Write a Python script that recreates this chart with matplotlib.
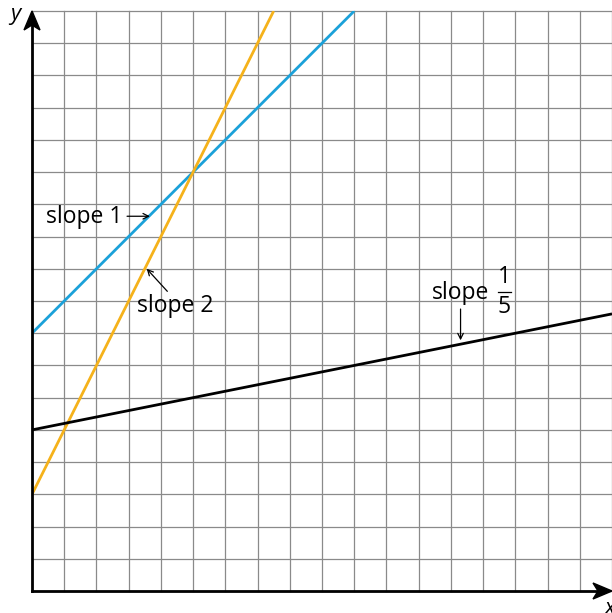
import numpy as np
import matplotlib
matplotlib.use('Agg')
import matplotlib.pyplot as plt
from matplotlib.patches import Polygon

plt.rcParams['font.family'] = ['Open Sans', 'DejaVu Sans']

# line end points
blue_x = [0, 10]
blue_y = [8, 18]
orange_x = [0, 7.5]
orange_y = [3, 18]
black_x = [0, 18]
black_y = [5, 8.6]

grid_max = 18
blue = '#1ba1d9'
orange = '#f5b21b'

fig = plt.figure(figsize=(6.12, 6.13), dpi=100)
W, H = 612, 613
ax = fig.add_axes([32 / W, 22 / H, 580 / W, 580 / H])
ax.set_xlim(0, grid_max)
ax.set_ylim(0, grid_max)
ax.axis('off')

# grid
for k in range(grid_max + 1):
    ax.plot([k, k], [0, grid_max], color='#8a8a8a', lw=0.9, zorder=1, clip_on=False)
    ax.plot([0, grid_max], [k, k], color='#8a8a8a', lw=0.9, zorder=1, clip_on=False)

# axes
ax.plot([0, 0], [0, grid_max - 0.4], color='black', lw=2, zorder=4, clip_on=False)
ax.plot([0, grid_max - 0.4], [0, 0], color='black', lw=2, zorder=4, clip_on=False)
u = 1 / 32.25
tip = [(0, grid_max), (-8 * u, grid_max - 19 * u), (0, grid_max - 14 * u),
       (8 * u, grid_max - 19 * u)]
ax.add_patch(Polygon(tip, closed=True, color='black', zorder=5, clip_on=False))
tip = [(grid_max, 0), (grid_max - 19 * u, 8 * u), (grid_max - 14 * u, 0),
       (grid_max - 19 * u, -8 * u)]
ax.add_patch(Polygon(tip, closed=True, color='black', zorder=5, clip_on=False))
ax.text(-0.35, grid_max - 0.1, 'y', fontsize=16, style='italic', ha='right',
        va='center', clip_on=False)
ax.text(grid_max - 0.05, -0.55, 'x', fontsize=16, style='italic', ha='center',
        va='center', clip_on=False)

# lines
ax.plot(blue_x, blue_y, color=blue, lw=2, zorder=3, solid_capstyle='butt')
ax.plot(orange_x, orange_y, color=orange, lw=2, zorder=3, solid_capstyle='butt')
ax.plot(black_x, black_y, color='black', lw=2, zorder=3, solid_capstyle='butt',
        clip_on=False)

# labels
fs = 16.5
arrow = dict(arrowstyle='->', color='black', lw=0.9, shrinkA=0, shrinkB=0)
ax.text(0.45, 11.62, 'slope 1', fontsize=fs, ha='left', va='center', zorder=6)
ax.annotate('', xy=(3.66, 11.63), xytext=(2.95, 11.63), arrowprops=arrow, zorder=6)

ax.text(3.25, 8.85, 'slope 2', fontsize=fs, ha='left', va='center', zorder=6)
ax.annotate('', xy=(3.56, 10.0), xytext=(4.2, 9.3), arrowprops=arrow, zorder=6)

ax.text(12.4, 9.25, 'slope', fontsize=fs, ha='left', va='center', zorder=6)
ax.text(14.65, 9.75, '1', fontsize=fs, ha='center', va='center', zorder=6)
ax.text(14.65, 8.8, '5', fontsize=fs, ha='center', va='center', zorder=6)
ax.plot([14.45, 14.85], [9.28, 9.28], color='black', lw=0.9, zorder=6)
ax.annotate('', xy=(13.3, 7.78), xytext=(13.3, 8.75), arrowprops=arrow, zorder=6)

fig.savefig('out.png', dpi=100)
